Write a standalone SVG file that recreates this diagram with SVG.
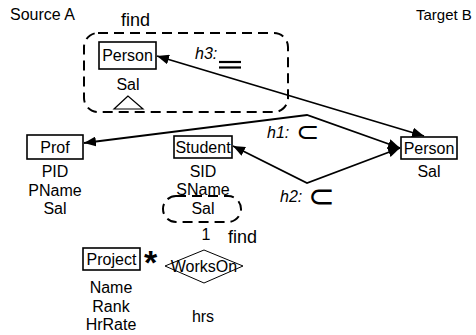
<svg xmlns="http://www.w3.org/2000/svg" width="476" height="335" viewBox="0 0 476 335">
  <defs>
    <marker id="arrow" viewBox="0 0 12 10" refX="12" refY="5" markerWidth="12" markerHeight="10" markerUnits="userSpaceOnUse" orient="auto-start-reverse">
      <path d="M0,0 L12,5 L0,10 Z" fill="#000"/>
    </marker>
  </defs>
  <style>
    text { font-family: "Liberation Sans", Arial, sans-serif; font-size: 16px; fill: #000; }
    .mid { text-anchor: middle; }
    .big { font-size: 18px; }
    .ital { font-style: italic; }
    .sym { font-family: "DejaVu Sans", sans-serif; }
    .box { fill: #fff; stroke: #000; stroke-width: 1.6; }
    .dash { fill: none; stroke: #000; stroke-width: 2; stroke-dasharray: 10 6; }
    .edge { fill: none; stroke: #000; stroke-width: 1.8; }
  </style>

  <rect width="476" height="335" fill="#fff"/>

  <!-- schema titles -->
  <text x="10" y="20">Source A</text>
  <text x="416" y="20" style="font-size:15px">Target B</text>

  <!-- find region around the source Person -->
  <g id="find-person">
    <rect class="dash" x="84" y="33" width="204" height="79" rx="14"/>
    <text class="big" x="121" y="26">find</text>
  </g>

  <!-- connectors -->
  <g id="connectors">
    <path class="edge" d="M157,56 L424,136" marker-start="url(#arrow)" marker-end="url(#arrow)"/>
    <path class="edge" d="M84,143 L307,115 L400,148" marker-start="url(#arrow)" marker-end="url(#arrow)"/>
    <path class="edge" d="M233,146 L307,183 L400,148" marker-start="url(#arrow)" marker-end="url(#arrow)"/>
  </g>

  <!-- source Person -->
  <g id="person-a">
    <rect class="box" x="99" y="42" width="57" height="27"/>
    <text class="mid" x="127.5" y="61">Person</text>
    <text class="mid" x="128" y="90">Sal</text>
    <polygon points="128,96 114,109 143,109" fill="#fff" stroke="#000" stroke-width="1.2"/>
  </g>

  <!-- target Person -->
  <g id="person-b">
    <rect class="box" x="401" y="137" width="56" height="22"/>
    <text class="mid" x="429" y="154">Person</text>
    <text class="mid" x="429" y="177">Sal</text>
  </g>

  <!-- Prof -->
  <g id="prof">
    <rect class="box" x="27" y="135" width="56" height="24"/>
    <text class="mid" x="55" y="153">Prof</text>
    <text class="mid" x="55" y="177">PID</text>
    <text class="mid" x="55" y="196">PName</text>
    <text class="mid" x="55" y="214">Sal</text>
  </g>

  <!-- Student -->
  <g id="student">
    <rect class="box" x="174" y="136" width="58" height="22"/>
    <text class="mid" x="203" y="153">Student</text>
    <text class="mid" x="203" y="177">SID</text>
    <text class="mid" x="203" y="195">SName</text>
    <rect class="dash" x="163" y="196" width="78" height="26" rx="13" stroke-width="1.6" stroke-dasharray="8 5"/>
    <text class="mid" x="203" y="214">Sal</text>
    <text class="mid" x="206" y="240">1</text>
    <text class="big" x="228" y="243">find</text>
  </g>

  <!-- Project -->
  <g id="project">
    <rect class="box" x="83" y="248" width="57" height="22"/>
    <text class="mid" x="111.5" y="265">Project</text>
    <text x="144" y="274" style="font-size:34px;font-weight:bold">*</text>
    <text class="mid" x="111" y="293">Name</text>
    <text class="mid" x="111" y="312">Rank</text>
    <text class="mid" x="111" y="330">HrRate</text>
  </g>

  <!-- WorksOn relationship -->
  <g id="workson">
    <polygon points="165,266 204,250 243,266 204,283" fill="#fff" stroke="#000" stroke-width="1"/>
    <text class="mid" x="204" y="272">WorksOn</text>
    <text class="mid" x="203" y="322">hrs</text>
  </g>

  <!-- mapping labels -->
  <g id="labels">
    <text class="ital" x="195" y="59">h3:</text>
    <line x1="219" y1="62" x2="241" y2="62" stroke="#000" stroke-width="2.2"/>
    <line x1="219" y1="67.5" x2="241" y2="67.5" stroke="#000" stroke-width="2.2"/>
    <text class="ital" x="267" y="138">h1:</text>
    <text class="sym" x="296" y="141" style="font-size:28px">⊂</text>
    <text class="ital" x="280" y="202">h2:</text>
    <text class="sym" x="308" y="207" style="font-size:32px">⊂</text>
  </g>
</svg>
